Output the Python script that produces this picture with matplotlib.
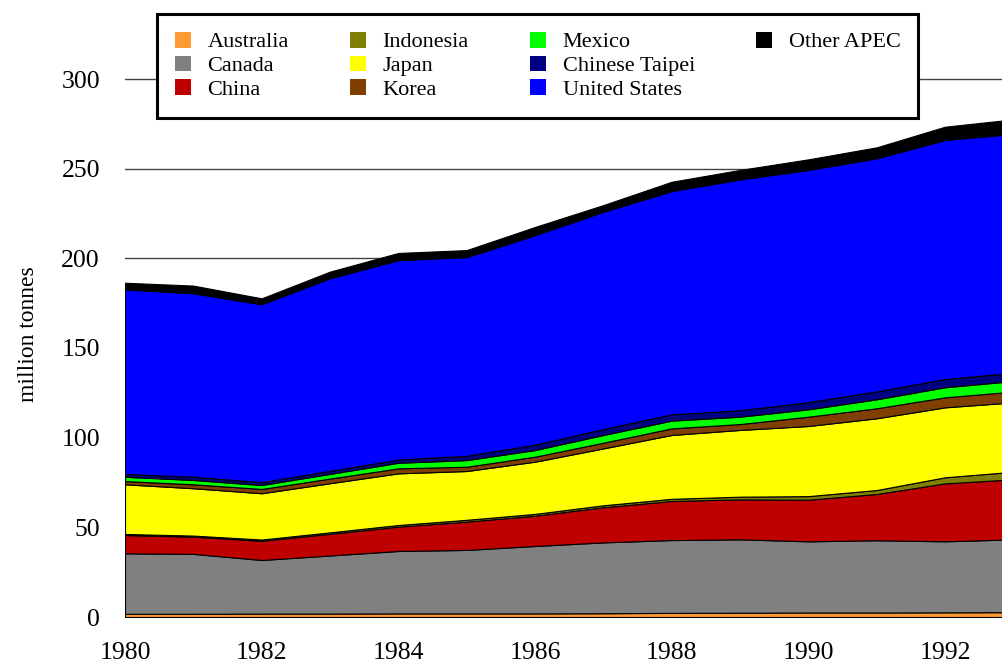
import matplotlib
matplotlib.use("Agg")
import matplotlib.pyplot as plt
from matplotlib.patches import Patch

plt.rcParams['font.family'] = ['Liberation Serif', 'DejaVu Serif']

years = [1980, 1981, 1982, 1983, 1984, 1985, 1986, 1987, 1988, 1989, 1990, 1991, 1992, 1993]

australia      = [1.8, 1.8, 1.9, 1.9, 2.0, 2.0, 2.0, 2.1, 2.3, 2.4, 2.5, 2.5, 2.6, 2.7]
canada         = [33.7, 33.4, 29.9, 32.4, 34.8, 35.4, 37.6, 39.5, 40.6, 40.9, 39.7, 40.3, 39.6, 40.6]
china          = [10.2, 9.6, 10.7, 12.1, 13.6, 15.8, 16.9, 19.6, 21.8, 22.3, 23.2, 25.8, 32.3, 33.5]
indonesia      = [0.6, 0.6, 0.7, 0.8, 0.9, 1.0, 1.0, 1.1, 1.2, 1.5, 2.0, 2.2, 3.4, 4.2]
japan          = [27.7, 26.4, 25.8, 27.4, 28.8, 27.2, 29.1, 31.7, 35.6, 37.2, 39.1, 40.0, 39.0, 38.7]
korea          = [1.8, 2.2, 2.4, 2.6, 2.8, 2.4, 2.8, 3.2, 3.7, 3.3, 5.2, 5.6, 5.6, 6.0]
mexico         = [2.4, 2.4, 2.2, 2.6, 3.1, 3.7, 3.7, 4.3, 4.3, 4.1, 4.1, 5.0, 5.6, 5.9]
chinese_taipei = [1.6, 1.8, 1.6, 1.7, 1.8, 2.4, 3.0, 3.3, 3.5, 3.6, 4.0, 4.4, 4.6, 4.6]
united_states  = [102.9, 102.3, 99.2, 107.4, 111.2, 110.8, 116.8, 121.2, 124.5, 128.7, 129.5, 130.0, 133.3, 133.2]
other_apec     = [3.7, 4.3, 3.3, 3.7, 4.0, 3.9, 4.6, 3.7, 5.2, 5.3, 5.9, 6.1, 7.4, 8.1]

labels = ['Australia', 'Canada', 'China', 'Indonesia', 'Japan', 'Korea',
          'Mexico', 'Chinese Taipei', 'United States', 'Other APEC']
colors = ['#FF9933', '#808080', '#BF0000', '#808000', '#FFFF00', '#7F3F00',
          '#00FF00', '#000080', '#0000FF', '#000000']
series = [australia, canada, china, indonesia, japan, korea,
          mexico, chinese_taipei, united_states, other_apec]

yticks = [0, 50, 100, 150, 200, 250, 300]
xticks = [1980, 1982, 1984, 1986, 1988, 1990, 1992]

W, H = 1002, 662
fig = plt.figure(figsize=(W / 100, H / 100), dpi=100)
ax = fig.add_axes([125 / W, (H - 617) / H, (W - 125) / W, 617 / H])

ax.stackplot(years, *series, colors=colors, edgecolor='black', linewidth=0.8, zorder=2)

ax.set_xlim(1980, 1980 + (W - 125) / ((945 - 125) / 12))
ax.set_ylim(0, 617 / ((617 - 79) / 300))
ax.set_yticks(yticks)
ax.set_xticks(xticks)
ax.yaxis.grid(True, color='#444444', linewidth=1.0, zorder=0)
ax.set_axisbelow(True)
for s in ax.spines.values():
    s.set_visible(False)
ax.tick_params(axis='y', length=0, pad=18, labelsize=18.5)
ax.tick_params(axis='x', length=0, pad=18, labelsize=18.5)
ax.set_ylabel('million tonnes', fontsize=17)
ax.yaxis.set_label_coords((39 - 125) / (W - 125), (617 - 334) / 617)

handles = [Patch(facecolor=c, edgecolor='none') for c in colors]
blank = Patch(facecolor='none', edgecolor='none')
handles_all = handles[:9] + [handles[9], blank, blank]
labels_all = labels[:9] + [labels[9], '', '']
leg = fig.legend(handles_all, labels_all, ncol=4, loc='upper left',
                 bbox_to_anchor=(157 / W, 1 - 14 / H),
                 fontsize=16, frameon=True, fancybox=False, framealpha=1,
                 edgecolor='black', handlelength=0.72, handleheight=0.72,
                 handletextpad=0.75, columnspacing=2.75, labelspacing=0.14,
                 borderpad=0.8, borderaxespad=0)
leg.get_frame().set_linewidth(2.2)

fig.savefig('out.png', dpi=100)
